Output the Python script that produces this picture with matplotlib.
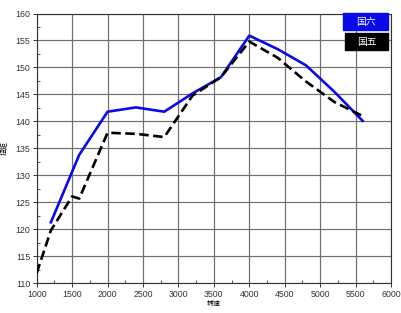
import matplotlib
matplotlib.use("Agg")
import matplotlib.pyplot as plt
from matplotlib.patches import Rectangle
from matplotlib.ticker import MultipleLocator

plt.rcParams['font.family'] = ['Liberation Sans', 'Noto Sans CJK SC', 'DejaVu Sans']

# data
rpm_g6 = [1200, 1600, 2000, 2400, 2800, 3200, 3600, 4000, 4400, 4800, 5200, 5600]
torque_g6 = [121.3, 133.8, 141.8, 142.6, 141.8, 145.2, 148.2, 155.9, 153.4, 150.4, 145.5, 140.1]
rpm_g5 = [1000, 1200, 1500, 1600, 2000, 2400, 2800, 3200, 3600, 4000, 4400, 4800, 5200, 5600]
torque_g5 = [111.9, 119.8, 126.1, 125.7, 137.9, 137.7, 137.1, 144.8, 148.2, 154.8, 151.8, 147.4, 143.6, 141.0]
labels = ["国六", "国五"]
colors = ["#0a0ae8", "#000000"]

fig = plt.figure(figsize=(4.02, 3.13), dpi=100)
ax = fig.add_axes([36.7 / 402, 29.7 / 313, 354.3 / 402, 269.8 / 313])

ax.plot(rpm_g6, torque_g6, color=colors[0], lw=1.9, zorder=3)
ax.plot(rpm_g5, torque_g5, color=colors[1], lw=1.9, ls=(0, (3.6, 1.7)), zorder=3)

ax.set_xlim(1000, 6000)
ax.set_ylim(110, 160)
ax.xaxis.set_major_locator(MultipleLocator(500))
ax.xaxis.set_minor_locator(MultipleLocator(250))
ax.yaxis.set_major_locator(MultipleLocator(5))
ax.yaxis.set_minor_locator(MultipleLocator(2.5))
ax.grid(True, which='major', color='#6e6e6e', lw=0.85)
ax.tick_params(which='major', labelsize=6.3, length=3, width=0.7, colors='#333333', pad=1.5)
ax.tick_params(which='minor', length=2, width=0.6, direction='in', colors='#333333')
for s in ax.spines.values():
    s.set_color('#333333')
    s.set_linewidth(0.8)

ax.set_xlabel("转速", fontsize=5, family=['Noto Sans CJK SC'], labelpad=1)
ax.set_ylabel("扭矩", fontsize=5, family=['Noto Sans CJK SC'], labelpad=5)

# legend boxes
for i, (lab, c) in enumerate(zip(labels, colors)):
    x0, w = (343 if i == 0 else 345), (45 if i == 0 else 43)
    y0 = 313 - (30 if i == 0 else 50)
    fig.add_artist(Rectangle((x0 / 402, y0 / 313), w / 402, 17 / 313,
                             transform=fig.transFigure, color=c, zorder=5))
    fig.text((x0 + w / 2) / 402, (y0 + 8.5) / 313, lab, color='white', fontsize=7,
             ha='center', va='center', family=['Noto Sans CJK SC'], zorder=6)

fig.savefig("out.png", dpi=100)
